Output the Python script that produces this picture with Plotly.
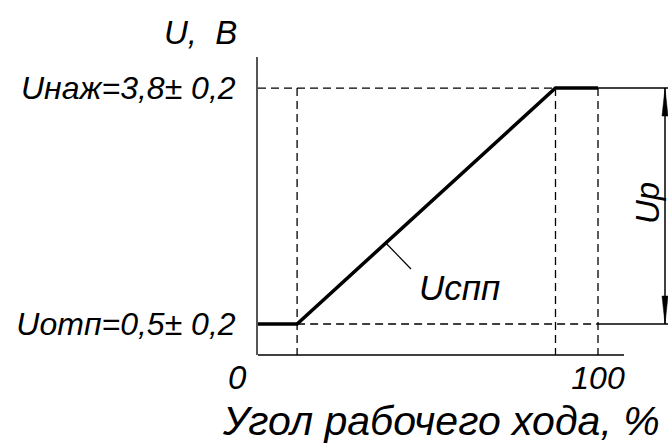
import plotly.graph_objects as go

# ---- data ----
x_pts = [0, 11.5, 87.5, 100]          # угол рабочего хода, %
u_pts = [0.5, 0.5, 3.8, 3.8]          # U, В
u_levels = [0.5, 3.8]
u_tick_text = ["Uотп=0,5± 0,2", "Uнаж=3,8± 0,2"]
x_ticks = [100]
x_tick_text = ["100"]

# ---- layout geometry ----
W, H = 668, 446
L, T = 258, 57
R = 0
B = H - 355
pw, ph = W - L - R, H - T - B
px_per_x = 3.4
px_per_u = 71.5
x_max = pw / px_per_x
u_min = u_levels[0] - 31 / px_per_u
u_max = u_min + ph / px_per_u

FONT = "Liberation Sans, Arial, sans-serif"
BLACK = "#000000"
DASH = "8px,5px"

def xp(px):  # screen pixel -> paper
    return (px - L) / pw

def yp(py):
    return (H - B - py) / ph

def xd(px):  # screen pixel -> data x
    return (px - L) / px_per_x

def ud(py):  # screen pixel -> data u
    return u_min + (H - B - py) / px_per_u

x_start, x_end, x_full = x_pts[1], x_pts[2], x_pts[3]
u_lo, u_hi = u_levels
x_dim = xd(665)
x_axis_end = xd(624)

fig = go.Figure()

def line(xs, ys, dash=None, width=1.3, color=BLACK):
    fig.add_trace(go.Scatter(x=xs, y=ys, mode="lines", hoverinfo="skip",
                             line=dict(color=color, width=width, dash=dash),
                             showlegend=False))

# dashed construction lines
line([0, x_end], [u_hi, u_hi], DASH)
line([x_start, x_full], [u_lo, u_lo], DASH)
for xv in [x_start, x_end, x_full]:
    line([xv, xv], [u_hi, u_min], DASH)
# thin extension lines
line([x_full, x_max], [u_hi, u_hi], None, 1.5)
line([x_full, x_max], [u_lo, u_lo], None, 1.5)
# dimension line
line([x_dim, x_dim], [u_lo, u_hi], None, 1.5)
# main characteristic
fig.add_trace(go.Scatter(x=x_pts, y=u_pts, mode="lines", hoverinfo="skip",
                         line=dict(color=BLACK, width=3.5), showlegend=False))

shapes = []
# x axis line
shapes.append(dict(type="line", xref="x", yref="paper", x0=0, x1=x_axis_end,
                   y0=0, y1=0, line=dict(color=BLACK, width=1.5)))
# arrowheads for the dimension line
ah_len = 28 / px_per_u
ah_w = 3 / px_per_x
for tip, base in [(u_hi, u_hi - ah_len), (u_lo, u_lo + ah_len)]:
    shapes.append(dict(type="path", xref="x", yref="y",
                       path=f"M {x_dim} {tip} L {x_dim - ah_w} {base} L {x_dim + ah_w} {base} Z",
                       fillcolor=BLACK, line=dict(color=BLACK, width=0.5)))
# leader line for Uспп
lead_x0 = 37.6
lead_u0 = u_lo + (lead_x0 - x_start) / (x_end - x_start) * (u_hi - u_lo)
shapes.append(dict(type="line", xref="x", yref="y", x0=lead_x0, y0=lead_u0,
                   x1=xd(411), y1=ud(269), line=dict(color=BLACK, width=1.2)))

def ann(text, x, y, size, angle=0, xanchor="center"):
    return dict(text=text, xref="paper", yref="paper", x=xp(x), y=yp(y),
                xanchor=xanchor, yanchor="middle", showarrow=False, textangle=angle,
                font=dict(family=FONT, size=size, color=BLACK, style="italic"))

annotations = [
    ann("U,  В", 200, 33, 33),
    ann("0", 237, 377, 33),
    ann("Угол рабочего хода, %", 441, 421, 41),
    ann("Uспп", 459, 287, 35),
    ann("Uр", 647, 203, 33, angle=-90),
]

fig.update_layout(
    width=W, height=H,
    margin=dict(l=L, r=R, t=T, b=B, pad=0),
    paper_bgcolor="white", plot_bgcolor="white",
    shapes=shapes, annotations=annotations,
    xaxis=dict(range=[0, x_max], showgrid=False, zeroline=False, showline=False,
               tickvals=x_ticks, ticktext=x_tick_text, ticks="",
               ticklabelstandoff=1,
               tickfont=dict(family=FONT, size=32, color=BLACK, style="italic")),
    yaxis=dict(range=[u_min, u_max], showgrid=False, zeroline=False,
               showline=True, linecolor="#555555", linewidth=2,
               tickvals=u_levels, ticktext=u_tick_text, ticks="",
               ticklabelstandoff=14,
               tickfont=dict(family=FONT, size=32, color=BLACK, style="italic")),
)

fig.write_html(
    "out.html",
    config={"displayModeBar": False},
    post_script="document.body.style.margin='0';document.body.style.overflow='hidden';",
)
